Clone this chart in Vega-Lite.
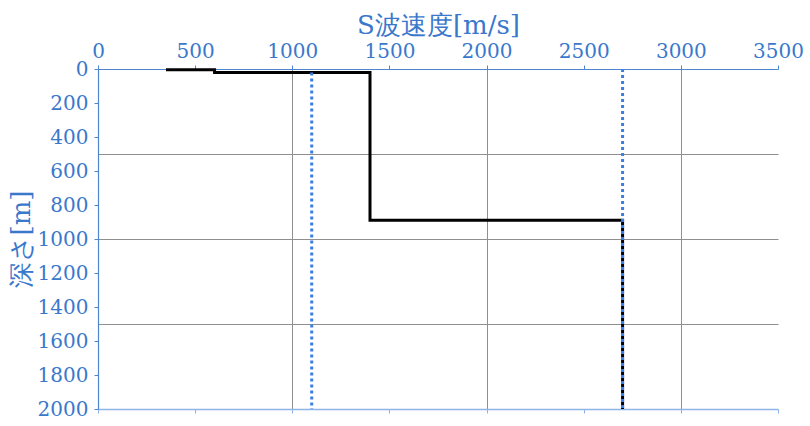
{
  "$schema": "https://vega.github.io/schema/vega-lite/v6.json",
  "width": 680,
  "height": 340,
  "autosize": {"type": "none"},
  "padding": {"left": 98, "top": 69, "right": 32, "bottom": 17},
  "background": "white",
  "config": {
    "font": "DejaVu Serif",
    "view": {"stroke": null},
    "axis": {"labelColor": "#3A78CC", "titleColor": "#3A78CC", "titleFontWeight": "normal"}
  },
  "datasets": {
    "profile": [
      {"i": 1, "vs": 350, "depth": 5},
      {"i": 2, "vs": 600, "depth": 5},
      {"i": 3, "vs": 600, "depth": 20},
      {"i": 4, "vs": 1400, "depth": 20},
      {"i": 5, "vs": 1400, "depth": 890},
      {"i": 6, "vs": 2700, "depth": 890},
      {"i": 7, "vs": 2700, "depth": 2000}
    ],
    "ref": [
      {"line": "a", "i": 1, "vs": 1100, "depth": 20},
      {"line": "a", "i": 2, "vs": 1100, "depth": 2000},
      {"line": "b", "i": 1, "vs": 2700, "depth": 0},
      {"line": "b", "i": 2, "vs": 2700, "depth": 2000}
    ]
  },
  "resolve": {"axis": {"x": "independent", "y": "independent"}},
  "layer": [
    {
      "data": {"name": "profile"},
      "mark": {"type": "line", "color": "#000000", "strokeWidth": 3, "strokeJoin": "miter", "strokeCap": "butt"},
      "encoding": {
        "x": {"field": "vs", "type": "quantitative", "scale": {"domain": [0, 3500], "nice": false, "zero": false},
              "axis": {"orient": "top", "values": [1000, 2000, 3000], "grid": true, "gridColor": "#8f8f8f", "gridOpacity": 1, "gridWidth": 1, "domain": false, "ticks": false, "labels": false, "title": null}},
        "y": {"field": "depth", "type": "quantitative", "scale": {"domain": [0, 2000], "reverse": true, "nice": false, "zero": false},
              "axis": {"orient": "left", "values": [500, 1000, 1500], "grid": true, "gridColor": "#8f8f8f", "gridOpacity": 1, "gridWidth": 1, "domain": false, "ticks": false, "labels": false, "title": null}},
        "order": {"field": "i"}
      }
    },
    {
      "data": {"name": "ref"},
      "mark": {"type": "line", "color": "#3C7FE0", "strokeWidth": 3, "strokeDash": [3, 3]},
      "encoding": {
        "x": {"field": "vs", "type": "quantitative",
              "axis": {"orient": "top", "values": [0, 500, 1000, 1500, 2000, 2500, 3000, 3500], "format": "d", "grid": false, "domainColor": "#4F86D2", "domainWidth": 1.2, "tickColor": "#4F86D2", "tickSize": 4, "labelFont": "DejaVu Serif", "labelFontSize": 20, "labelPadding": 4, "labelFlush": false, "title": "S波速度[m/s]", "titleFont": "DejaVu Serif", "titleFontSize": 26, "titlePadding": 3}},
        "y": {"field": "depth", "type": "quantitative",
              "axis": {"orient": "left", "values": [0, 200, 400, 600, 800, 1000, 1200, 1400, 1600, 1800, 2000], "format": "d", "grid": false, "domainColor": "#4F86D2", "domainWidth": 1.2, "tickColor": "#4F86D2", "tickSize": 4, "labelFont": "DejaVu Serif", "labelFontSize": 20, "labelPadding": 6, "labelFlush": false, "title": "深さ[m]", "titleFont": "DejaVu Serif", "titleFontSize": 26, "titlePadding": 3}},
        "detail": {"field": "line"},
        "order": {"field": "i"}
      }
    },
    {
      "data": {"name": "profile"},
      "mark": {"type": "point", "opacity": 0},
      "encoding": {
        "x": {"field": "vs", "type": "quantitative",
              "axis": {"orient": "bottom", "values": [0, 500, 1000, 1500, 2000, 2500, 3000, 3500], "grid": false, "domainColor": "#8FB3E6", "domainWidth": 1.5, "tickColor": "#8FB3E6", "tickSize": 4, "labels": false, "title": null}},
        "y": {"field": "depth", "type": "quantitative", "axis": null}
      }
    }
  ]
}
